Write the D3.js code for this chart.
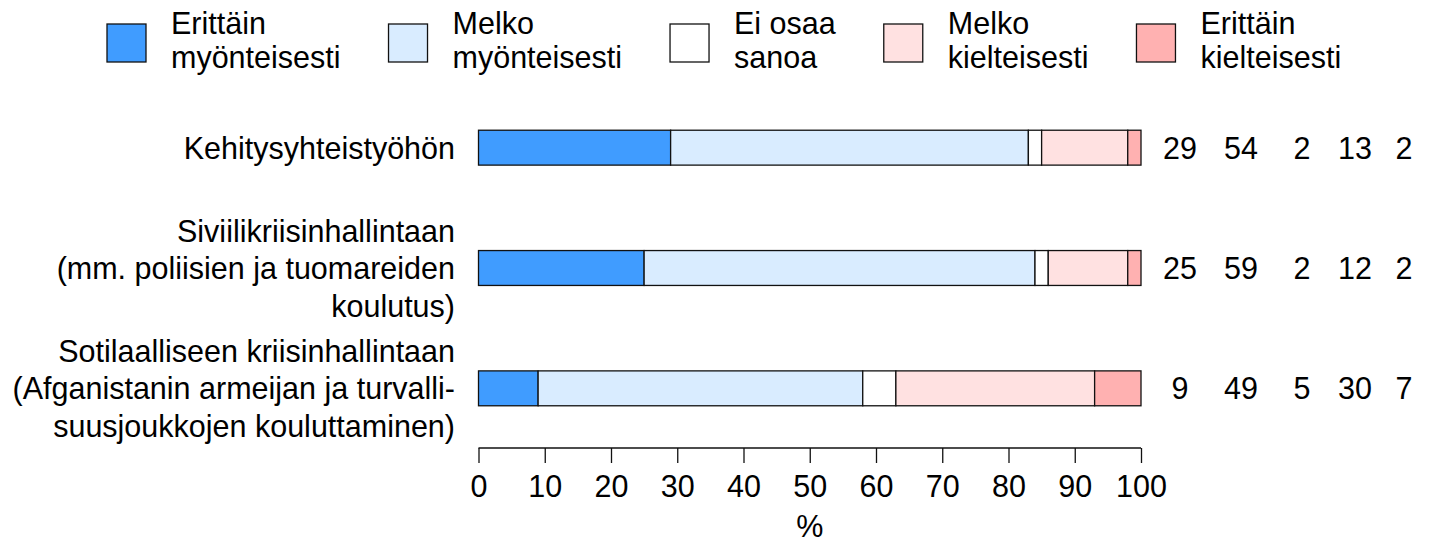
<!DOCTYPE html>
<html><head><meta charset="utf-8">
<script src="https://cdn.jsdelivr.net/npm/d3@7"></script>
<style>body{margin:0;background:#fff}text{font-family:"Liberation Sans",Arial,sans-serif;fill:#000}</style>
</head><body><svg id="c" width="1433" height="545"></svg>
<script>
const categories = [
  ["Kehitysyhteistyöhön"],
  ["Siviilikriisinhallintaan","(mm. poliisien ja tuomareiden","koulutus)"],
  ["Sotilaalliseen kriisinhallintaan","(Afganistanin armeijan ja turvalli-","suusjoukkojen kouluttaminen)"]
];
const seriesNames = [["Erittäin","myönteisesti"],["Melko","myönteisesti"],["Ei osaa","sanoa"],["Melko","kielteisesti"],["Erittäin","kielteisesti"]];
const colors = ["#409cff","#d9ecff","#ffffff","#ffe1e1","#ffb1b1"];
const erittainMyont = [29,25,9];
const melkoMyont = [54,59,49];
const eiOsaa = [2,2,5];
const melkoKielt = [13,12,30];
const erittainKielt = [2,2,7];
const xTicks = [0,10,20,30,40,50,60,70,80,90,100];

const series = [erittainMyont, melkoMyont, eiOsaa, melkoKielt, erittainKielt];
const svg = d3.select("#c");
const FS = 30.5;
const x = d3.scaleLinear().domain([0,100]).range([478.5,1141]);
const y = d3.scaleBand().domain([0,1,2]).range([87.5,448.5]).paddingInner(0.71).paddingOuter(0.355);

const stackData = categories.map((c,i)=>{const o={i}; series.forEach((s,k)=>o["s"+k]=s[i]); return o;});
const stack = d3.stack().keys(series.map((s,k)=>"s"+k))(stackData);
stack.forEach((layer,k)=>{
  svg.append("g").selectAll("rect").data(layer).join("rect")
    .attr("x",d=>x(d[0])).attr("width",d=>x(d[1])-x(d[0]))
    .attr("y",d=>y(d.data.i)).attr("height",y.bandwidth())
    .attr("fill",colors[k]).attr("stroke","#111").attr("stroke-width",1.3);
});

const LH = 37.5;
categories.forEach((lines,i)=>{
  const cy = y(i)+y.bandwidth()/2;
  const n = lines.length;
  lines.forEach((t,j)=>{
    svg.append("text").attr("x",455).attr("y",cy + 11 + (j-(n-1)/2)*LH)
      .attr("text-anchor","end").attr("font-size",FS).text(t);
  });
});

const valX = [1180,1241,1302,1355,1404];
categories.forEach((c,i)=>{
  const cy = y(i)+y.bandwidth()/2;
  series.forEach((s,k)=>{
    svg.append("text").attr("x",valX[k]).attr("y",cy+11).attr("text-anchor","middle")
      .attr("font-size",FS).text(s[i]);
  });
});

const ax = svg.append("g").attr("transform","translate(0,448)")
  .call(d3.axisBottom(x).tickValues(xTicks).tickSize(15).tickPadding(12).tickFormat(d3.format("d")));
ax.select(".domain").attr("stroke","#111").attr("stroke-width",1.5).attr("d",`M${x(0)},0H${x(100)}`);
ax.selectAll(".tick line").attr("stroke","#111").attr("stroke-width",1.3);
ax.selectAll(".tick text").attr("font-size",FS).attr("font-family","Liberation Sans, Arial, sans-serif").attr("fill","#000");
svg.append("text").attr("x",(x(0)+x(100))/2).attr("y",537).attr("text-anchor","middle").attr("font-size",FS).text("%");

let lx = 107;
seriesNames.forEach((nm,k)=>{
  svg.append("rect").attr("x",lx).attr("y",24).attr("width",39).attr("height",38)
    .attr("fill",colors[k]).attr("stroke","#111").attr("stroke-width",1.3);
  const tx = lx+64;
  let maxW = 0;
  nm.forEach((t,j)=>{
    const el = svg.append("text").attr("x",tx).attr("y",34+j*34).attr("font-size",FS).text(t);
    maxW = Math.max(maxW, el.node().getComputedTextLength());
  });
  lx = tx + maxW + 48;
});
</script></body></html>
